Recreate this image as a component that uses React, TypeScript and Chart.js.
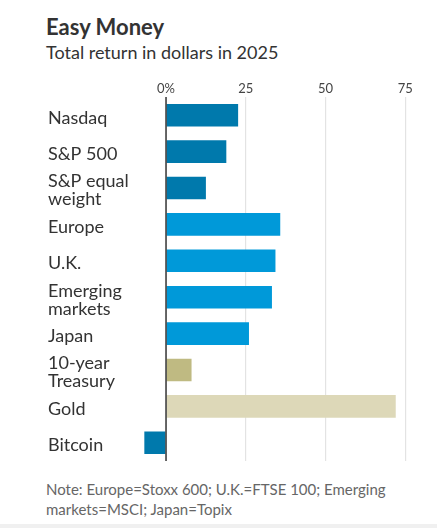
import React, { useEffect, useRef } from "react";
import { Chart, registerables } from "chart.js";

Chart.register(...registerables);

const categories: (string | string[])[] = [
  "Nasdaq",
  "S&P 500",
  ["S&P equal", "weight"],
  "Europe",
  "U.K.",
  ["Emerging", "markets"],
  "Japan",
  ["10-year", "Treasury"],
  "Gold",
  "Bitcoin",
];
const returns: number[] = [22.6, 18.9, 12.5, 35.8, 34.3, 33.2, 26.0, 8.0, 72.0, -6.8];
const groups: string[] = ["us", "us", "us", "intl", "intl", "intl", "intl", "bond", "gold", "crypto"];
const tickValues: number[] = [0, 25, 50, 75];
const tickLabels: string[] = ["0%", "25", "50", "75"];

const palette: Record<string, string> = {
  us: "#0079ac",
  intl: "#0099d9",
  bond: "#bfba82",
  gold: "#ddd8b8",
  crypto: "#0079ac",
};

const FONT = "Lato, 'Noto Sans', sans-serif";

const zeroLine = {
  id: "zeroLine",
  afterDatasetsDraw(chart: any) {
    const x = chart.scales.x.getPixelForValue(0);
    const { top, bottom } = chart.chartArea;
    const ctx = chart.ctx;
    ctx.save();
    ctx.strokeStyle = "#333333";
    ctx.lineWidth = 1.5;
    ctx.beginPath();
    ctx.moveTo(x, top);
    ctx.lineTo(x, bottom);
    ctx.stroke();
    ctx.restore();
  },
};

export default function App() {
  const ref = useRef<HTMLCanvasElement | null>(null);

  useEffect(() => {
    if (!ref.current) return;
    const chart = new Chart(ref.current, {
      type: "bar",
      data: {
        labels: categories,
        datasets: [
          {
            data: returns,
            backgroundColor: groups.map((g) => palette[g]),
            borderWidth: 0,
            categoryPercentage: 1,
            barPercentage: 0.62,
          },
        ],
      },
      options: {
        indexAxis: "y",
        animation: false,
        responsive: false,
        maintainAspectRatio: false,
        layout: { padding: { left: 48, right: 28.5, top: 70, bottom: 7 } },
        plugins: {
          legend: { display: false },
          tooltip: { enabled: false },
          title: { display: false },
        },
        scales: {
          x: {
            position: "top",
            min: -8,
            max: 76,
            afterFit: (scale: any) => {
              scale.height = 27;
            },
            afterBuildTicks: (scale: any) => {
              scale.ticks = tickValues.map((v) => ({ value: v }));
            },
            ticks: {
              autoSkip: false,
              maxRotation: 0,
              padding: 0,
              color: "#444444",
              font: { family: FONT, size: 13 },
              callback: (v: any) => {
                const i = tickValues.indexOf(Number(v));
                return i >= 0 ? tickLabels[i] : "";
              },
            },
            grid: {
              drawTicks: false,
              color: (ctx: any) => (ctx.tick && ctx.tick.value === 0 ? "rgba(0,0,0,0)" : "#e3e3e3"),
              lineWidth: 1.2,
            },
            border: { display: false },
          },
          y: {
            afterFit: (scale: any) => {
              scale.width = 92.5;
            },
            ticks: {
              autoSkip: false,
              crossAlign: "far",
              labelOffset: 2.5,
              color: "#333333",
              padding: 0,
              font: { family: FONT, size: 18, lineHeight: 1.0 },
            },
            grid: { display: false },
            border: { display: false },
          },
        },
      },
      plugins: [zeroLine],
    });
    return () => chart.destroy();
  }, []);

  return (
    <div
      style={{
        position: "absolute",
        left: 0,
        top: 0,
        width: 437,
        height: 528,
        background: "#ffffff",
        overflow: "hidden",
        fontFamily: FONT,
      }}
    >
      <div
        style={{
          position: "absolute",
          left: 46,
          top: 15.5,
          fontSize: 22,
          lineHeight: "22px",
          fontWeight: 700,
          color: "#333333",
          whiteSpace: "nowrap",
        }}
      >
        Easy Money
      </div>
      <div
        style={{
          position: "absolute",
          left: 46,
          top: 43,
          fontSize: 18,
          lineHeight: "18px",
          color: "#333333",
          whiteSpace: "nowrap",
        }}
      >
        Total return in dollars in 2025
      </div>
      <canvas
        ref={ref}
        width={437}
        height={470}
        style={{ position: "absolute", left: 0, top: 0, width: 437, height: 470 }}
      />
      <div
        style={{
          position: "absolute",
          left: 46,
          top: 479,
          width: 380,
          fontSize: 15,
          lineHeight: "20px",
          color: "#666666",
        }}
      >
        Note: Europe=Stoxx 600; U.K.=FTSE 100; Emerging markets=MSCI; Japan=Topix
      </div>
      <div
        style={{
          position: "absolute",
          left: 0,
          top: 524,
          width: 437,
          height: 4,
          background: "#f0f0f0",
        }}
      />
    </div>
  );
}
